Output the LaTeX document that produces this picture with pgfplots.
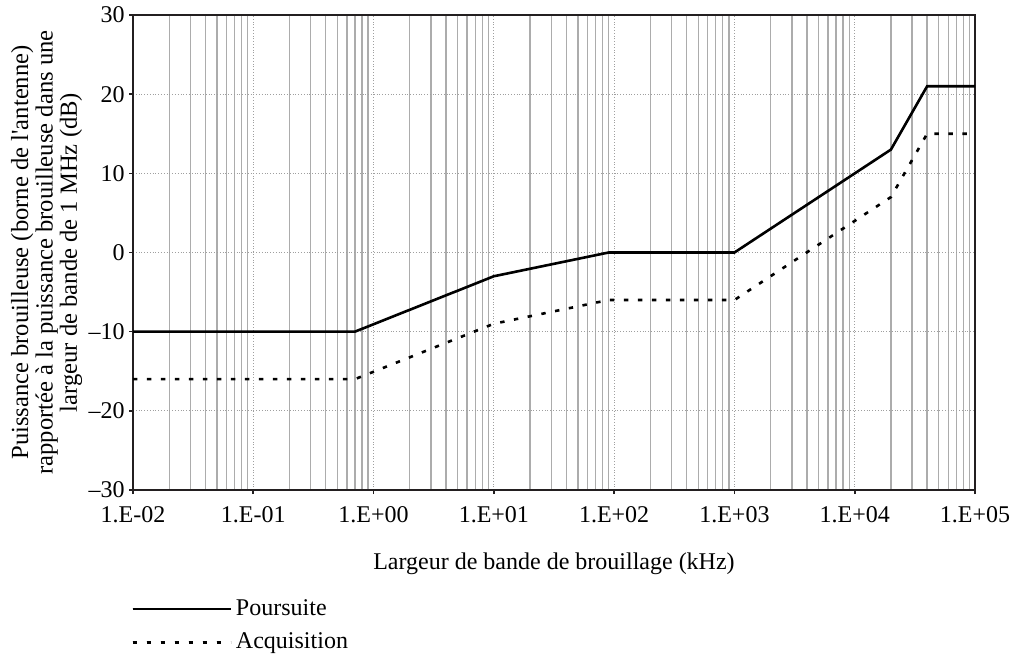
\documentclass[border=0pt]{standalone}
\usepackage{fontspec}
\setmainfont{Liberation Serif}
\usepackage{pgfplots}
\pgfplotsset{compat=1.18}
\definecolor{frame}{HTML}{231F20}
\begin{document}
\fontsize{12}{12}\selectfont
\begin{tikzpicture}
\useasboundingbox (-66.5pt,-81.5pt) rectangle (439pt,245pt);
\begin{axis}[
  at={(0,0)}, anchor=south west,
  scale only axis, width=421pt, height=237.5pt,
  xmode=log, xmin=1e-2, xmax=1e5, ymin=-30, ymax=30,
  xtick={1e-2,1e-1,1,1e1,1e2,1e3,1e4,1e5},
  xticklabels={1.E-02,1.E-01,1.E+00,1.E+01,1.E+02,1.E+03,1.E+04,1.E+05},
  minor xtick={2e-2,3e-2,4e-2,5e-2,6e-2,7e-2,8e-2,9e-2,
               2e-1,3e-1,4e-1,5e-1,6e-1,7e-1,8e-1,9e-1,
               2,3,4,5,6,7,8,9,
               20,30,40,50,60,70,80,90,
               200,300,400,500,600,700,800,900,
               2e3,3e3,4e3,5e3,6e3,7e3,8e3,9e3,
               2e4,3e4,4e4,5e4,6e4,7e4,8e4,9e4},
  ytick={-30,-20,-10,0,10,20,30},
  yticklabels={–30,–20,–10,0,10,20,30},
  xtick pos=bottom, ytick pos=left,
  tick align=outside, major tick length=2pt, minor tick length=0pt,
  tick style={frame, line width=0.8pt},
  xticklabel style={yshift=-2pt},
  yticklabel style={xshift=2pt},
  xmajorgrids, ymajorgrids, xminorgrids,
  major grid style={densely dotted, gray!75, line width=0.5pt},
  minor grid style={gray!65, line width=0.7pt},
  axis line style={frame, line width=1.3pt},
  xlabel={Largeur de bande de brouillage (kHz)},
  xlabel style={yshift=-7pt},
  ylabel={Puissance brouilleuse (borne de l\textquotesingle antenne)\\rapportée à la puissance brouilleuse dans une\\largeur de bande de 1 MHz (dB)},
  ylabel style={align=center, font=\fontsize{12.3}{10.8}\selectfont},
  ylabel shift=-5pt,
  legend style={draw=none, fill=none, at={(0,0)}, anchor=north west,
    xshift=-4pt, yshift=-50.5pt, row sep=3pt, font=\fontsize{12}{12}\selectfont},
  legend cell align=left,
  legend image code/.code={\draw[#1] (0pt,0pt) -- (45pt,0pt); \path (0pt,0pt) -- (49pt,0pt);},
]
\addplot[black, line width=1.3pt] coordinates {
  (0.01,-10) (0.7,-10) (10,-3) (90,0) (1000,0) (20000,13) (40000,21) (100000,21)
};
\addlegendentry{Poursuite}
\addplot[black, line width=1.3pt, dash pattern=on 2.2pt off 4.8pt] coordinates {
  (0.01,-16) (0.7,-16) (10,-9) (90,-6) (1000,-6) (20000,7) (40000,15) (100000,15)
};
\addlegendentry{Acquisition}
\end{axis}
\end{tikzpicture}
\end{document}
